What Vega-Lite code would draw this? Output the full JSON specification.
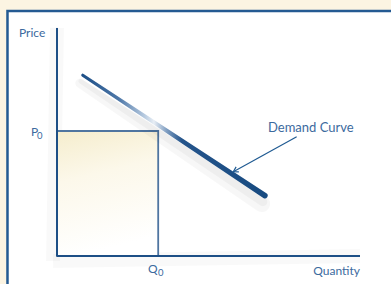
{
  "$schema": "https://vega.github.io/schema/vega-lite/v6.json",
  "width": 391,
  "height": 284,
  "padding": 0,
  "autosize": {"type": "fit", "contains": "padding"},
  "background": "#FCF4E2",
  "config": {"view": {"stroke": null}},
  "resolve": {"scale": {"size": "independent"}},
  "datasets": {
    "panel": [{"x": -1.634, "y": 10.84, "x2": 12, "y2": -2}],
    "box": [{"q": 0, "q2": 3.34, "p": 0, "p2": 5.53}],
    "demand": [
      {"q": 0.85, "p": 8.0, "w": 3, "o": 1},
      {"q": 6.86, "p": 2.67, "w": 5.6, "o": 2}
    ],
    "axes": [
      {"q": 0, "p": 0, "q2": 0, "p2": 10.09},
      {"q": 0, "p": 0, "q2": 10, "p2": 0}
    ],
    "arrow": [{"q": 7.91, "p": 5.28, "q2": 5.82, "p2": 3.73}],
    "labels12": [
      {"label": "Price", "q": -1.254, "p": 9.69},
      {"label": "P", "q": -0.858, "p": 5.33},
      {"label": "Q", "q": 3.003, "p": -0.752}
    ],
    "subs": [
      {"label": "0", "q": -0.66, "p": 5.177},
      {"label": "0", "q": 3.333, "p": -0.907}
    ],
    "right": [{"label": "Quantity", "q": 10, "p": -0.841}],
    "demandLabel": [{"label": "Demand Curve", "q": 6.964, "p": 5.473}]
  },
  "encoding": {
    "x": {"field": "q", "type": "quantitative", "scale": {"domain": [-1.881, 11.023], "nice": false, "zero": false}, "axis": null},
    "y": {"field": "p", "type": "quantitative", "scale": {"domain": [-1.239, 11.327], "nice": false, "zero": false}, "axis": null}
  },
  "layer": [
    {
      "data": {"name": "panel"},
      "mark": {"type": "rect", "fill": "#FFFFFF", "stroke": "#245A92", "strokeWidth": 2.5, "clip": true},
      "encoding": {
        "x": {"field": "x", "type": "quantitative"},
        "x2": {"field": "x2"},
        "y": {"field": "y", "type": "quantitative"},
        "y2": {"field": "y2"}
      }
    },
    {
      "data": {"name": "axes"},
      "mark": {"type": "rule", "color": "#000000", "opacity": 0.025, "strokeWidth": 14, "xOffset": -4, "yOffset": 5, "clip": true},
      "encoding": {"x2": {"field": "q2"}, "y2": {"field": "p2"}}
    },
    {
      "data": {"name": "box"},
      "mark": {
        "type": "rect",
        "stroke": "#4F75A0",
        "strokeWidth": 1.8,
        "color": {"gradient": "linear", "x1": 0, "y1": 0, "x2": 0.2, "y2": 1,
          "stops": [
            {"offset": 0, "color": "#F5EDCD"},
            {"offset": 0.4, "color": "#FCF8EA"},
            {"offset": 1, "color": "#FFFFFF"}
          ]}
      },
      "encoding": {"x2": {"field": "q2"}, "y2": {"field": "p2"}}
    },
    {
      "data": {"name": "demand"},
      "mark": {"type": "trail", "color": "#000000", "opacity": 0.03, "xOffset": -3, "yOffset": 8},
      "encoding": {
        "order": {"field": "o", "type": "quantitative"},
        "size": {"field": "w", "type": "quantitative", "scale": {"domain": [0, 10], "range": [0, 30]}, "legend": null}
      }
    },
    {
      "data": {"name": "demand"},
      "mark": {"type": "trail", "color": "#000000", "opacity": 0.035, "xOffset": -2, "yOffset": 6},
      "encoding": {
        "order": {"field": "o", "type": "quantitative"},
        "size": {"field": "w", "type": "quantitative", "scale": {"domain": [0, 10], "range": [0, 16]}, "legend": null}
      }
    },
    {
      "data": {"name": "demand"},
      "mark": {
        "type": "trail",
        "color": {"gradient": "linear", "x1": 0, "y1": 0, "x2": 1, "y2": 0,
          "stops": [
            {"offset": 0, "color": "#1C4E86"},
            {"offset": 0.2, "color": "#4D77A8"},
            {"offset": 0.34, "color": "#B8CBE0"},
            {"offset": 0.39, "color": "#E8EEF5"},
            {"offset": 0.46, "color": "#7D9CC0"},
            {"offset": 0.54, "color": "#24548B"},
            {"offset": 1, "color": "#174A80"}
          ]}
      },
      "encoding": {
        "order": {"field": "o", "type": "quantitative"},
        "size": {"field": "w", "type": "quantitative", "scale": {"domain": [0, 10], "range": [0, 10]}, "legend": null}
      }
    },
    {
      "data": {"name": "axes"},
      "mark": {"type": "rule", "color": "#1D4F86", "strokeWidth": 2},
      "encoding": {"x2": {"field": "q2"}, "y2": {"field": "p2"}}
    },
    {
      "data": {"name": "arrow"},
      "mark": {"type": "rule", "color": "#1F5A92", "strokeWidth": 1.2},
      "encoding": {"x2": {"field": "q2"}, "y2": {"field": "p2"}}
    },
    {
      "data": {"name": "arrow"},
      "mark": {"type": "point", "shape": "M -0.6 1 L 0 0 L 0.6 1", "filled": false, "stroke": "#1F5A92", "strokeWidth": 1.2, "size": 90, "angle": 241, "opacity": 1},
      "encoding": {
        "x": {"field": "q2", "type": "quantitative"},
        "y": {"field": "p2", "type": "quantitative"}
      }
    },
    {
      "data": {"name": "labels12"},
      "mark": {"type": "text", "font": "Lato", "fontSize": 12, "align": "left", "baseline": "alphabetic", "color": "#3C6A9E"},
      "encoding": {"text": {"field": "label"}}
    },
    {
      "data": {"name": "subs"},
      "mark": {"type": "text", "font": "Lato", "fontSize": 9.5, "align": "left", "baseline": "alphabetic", "color": "#3C6A9E"},
      "encoding": {"text": {"field": "label"}}
    },
    {
      "data": {"name": "right"},
      "mark": {"type": "text", "font": "Lato", "fontSize": 12, "align": "right", "baseline": "alphabetic", "color": "#3C6A9E"},
      "encoding": {"text": {"field": "label"}}
    },
    {
      "data": {"name": "demandLabel"},
      "mark": {"type": "text", "font": "Lato", "fontSize": 13, "align": "left", "baseline": "alphabetic", "color": "#3C6A9E"},
      "encoding": {"text": {"field": "label"}}
    }
  ]
}
